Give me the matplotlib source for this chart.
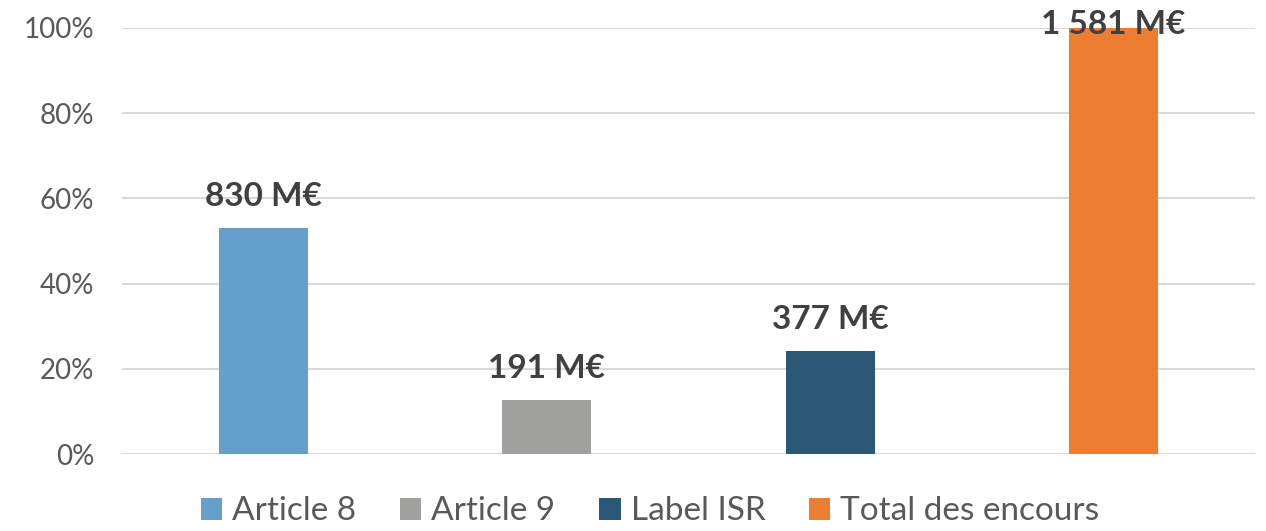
import matplotlib.pyplot as plt
from matplotlib.patches import Patch
from matplotlib.ticker import PercentFormatter

plt.rcParams['font.family'] = ['Lato', 'DejaVu Sans']

categories = ['Article 8', 'Article 9', 'Label ISR', 'Total des encours']
shares = [53.0, 12.6, 24.1, 100.0]
labels = ['830 M€', '191 M€', '377 M€', '1 581 M€']
colors = ['#65A0CA', '#A0A09F', '#2C5878', '#ED7D31']

fig = plt.figure(figsize=(12.66, 5.31), dpi=100)
ax = fig.add_axes([0.0964, 0.145, 0.8949, 0.8023])

x = range(len(categories))
ax.bar(x, shares, width=0.314, color=colors, zorder=3)

# data labels above bars (kept inside plot area like Excel does)
for xi, v, lab in zip(x, shares, labels):
    ax.text(xi, min(v + 4, 97.3), lab, ha='center', va='bottom',
            fontsize=24, fontweight='bold', color='#404040', zorder=4)

ax.set_xlim(-0.5, len(categories) - 0.5)
ax.set_ylim(0, 100)
ax.set_yticks(range(0, 101, 20))
ax.yaxis.set_major_formatter(PercentFormatter(decimals=0))
ax.set_xticks([])
ax.tick_params(axis='y', length=0, pad=20, labelsize=20, labelcolor='#595959')
ax.grid(axis='y', color='#D9D9D9', linewidth=1.5, zorder=0)
for s in ax.spines.values():
    s.set_visible(False)

handles = [Patch(facecolor=c, edgecolor='none') for c in colors]
fig.legend(handles, categories, loc='lower center', bbox_to_anchor=(650 / 1266, -0.048),
           ncol=4, frameon=False, fontsize=24, labelcolor='#595959',
           handlelength=0.65, handleheight=0.65, handletextpad=0.3, columnspacing=1.3)

fig.savefig('out.png', dpi=100)
